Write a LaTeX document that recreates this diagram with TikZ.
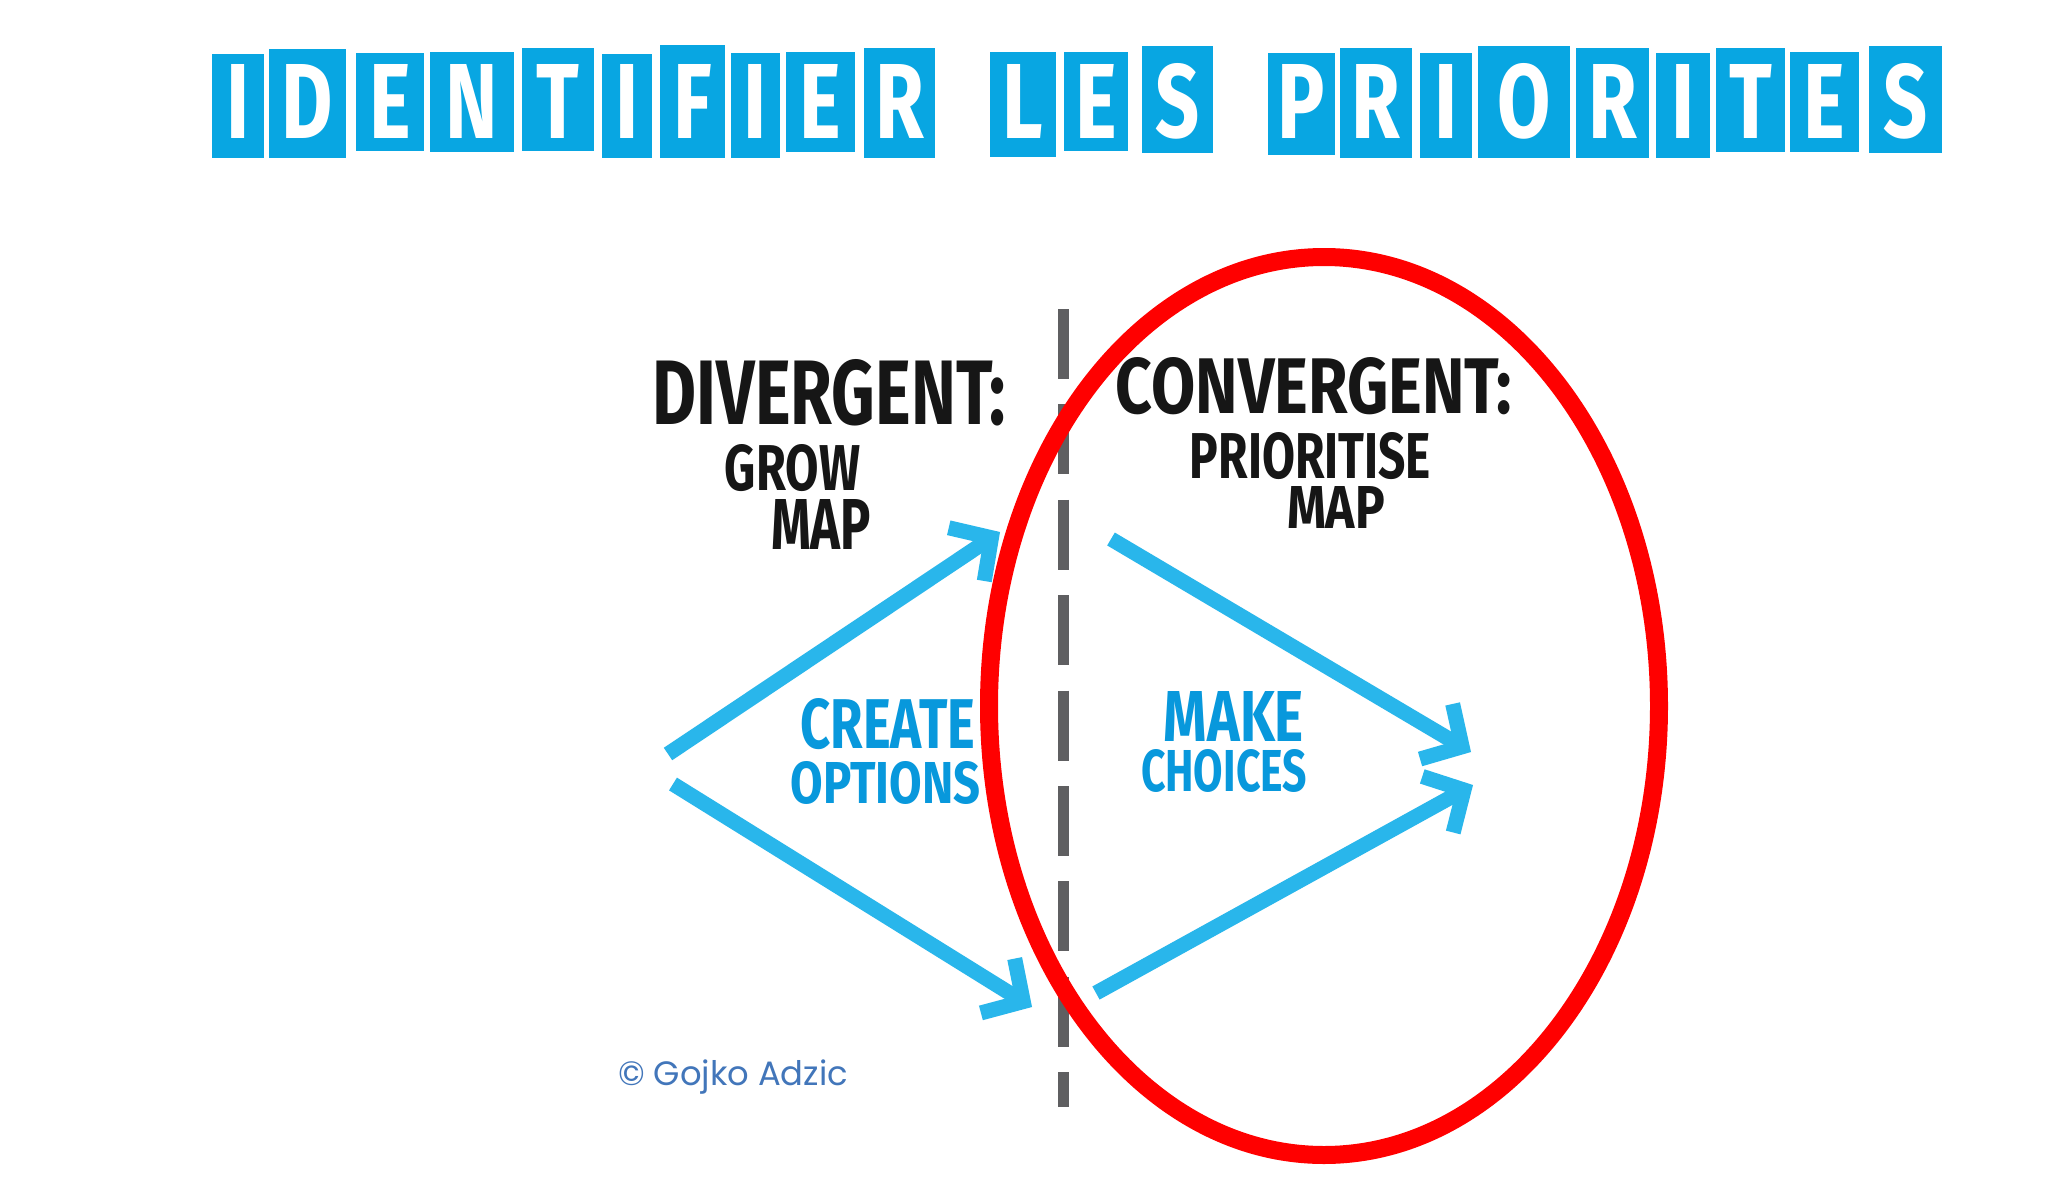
\documentclass[tikz,border=0pt]{standalone}
\usepackage{fontspec}
\setmainfont{Fira Sans}
\newfontfamily\copyfont{Poppins}
\usetikzlibrary{arrows.meta}
\definecolor{titleblue}{RGB}{8,166,226}
\definecolor{arrowblue}{RGB}{41,182,235}
\definecolor{textblue}{RGB}{8,152,220}
\definecolor{dashgray}{RGB}{95,95,97}
\definecolor{copyblue}{RGB}{66,118,186}
\definecolor{ovalred}{RGB}{255,0,0}
\definecolor{inkblack}{RGB}{22,22,22}
\tikzset{
  every node/.style={inner sep=0pt, outer sep=0pt},
  tbox/.style={fill=titleblue, draw=none},
  tletter/.style={text=white, font=\bfseries},
  headtxt/.style={text=inkblack, font=\bfseries},
  bluetxt/.style={text=textblue, font=\bfseries},
  flow/.style={draw=arrowblue, line width=15pt, -{Straight Barb[length=30pt,width=64pt]}},
  divider/.style={draw=dashgray, line width=11pt, dash pattern=on 70pt off 25.4pt},
  oval/.style={draw=ovalred, line width=18pt},
  copytxt/.style={text=copyblue, font=\copyfont}
}
\newcommand{\fitbox}[3]{\resizebox{#1pt}{#2pt}{#3}}
\begin{document}
\begin{tikzpicture}[x=1pt,y=-1pt]
\useasboundingbox (0,0) rectangle (2048,1196);
\fill[white] (0,0) rectangle (2048,1196);

% title
\foreach \xa/\ya/\xb/\yb/\L [count=\i] in {
  212/54/264/158/I, 269/49/346/158/D, 356/53/424/151/E, 430/52/514/152/N,
  522/48/594/151/T, 602/54/652/158/I, 660/45/725/158/F, 731/53/780/158/I,
  786/52/855/152/E, 864/48/935/158/R,
  990/52/1056/157/L, 1064/52/1128/151/E, 1142/46/1213/153/S,
  1268/53/1335/155/P, 1340/48/1412/158/R, 1420/53/1472/158/I, 1478/46/1570/158/O,
  1576/48/1649/158/R, 1656/53/1710/158/I, 1716/48/1785/152/T, 1790/52/1859/152/E,
  1869/46/1942/153/S}
{
  \fill[tbox] (\xa,\ya) rectangle (\xb,\yb);
  \node[tletter] (t\i) at ({(\xa+\xb)/2},101) {\resizebox{!}{74pt}{\scalebox{0.74}[1]{\L}}};
}

% divider
\coordinate (dtop) at (1063,309);
\coordinate (dbot) at (1063,1107);
\draw[divider] (dtop) -- (dbot);

% arrows
\coordinate (a1s) at (668,754);  \coordinate (a1e) at (1000,532);
\coordinate (a2s) at (673,784);  \coordinate (a2e) at (1032,1007);
\coordinate (a3s) at (1111,539); \coordinate (a3e) at (1471,752);
\coordinate (a4s) at (1096,993); \coordinate (a4e) at (1473,785);
\draw[flow] (a1s) -- (a1e);
\draw[flow] (a2s) -- (a2e);
\draw[flow] (a3s) -- (a3e);
\draw[flow] (a4s) -- (a4e);

% headings
\node[headtxt] (div) at (829.5,392.5) {\fitbox{353}{65}{DIVERGENT:}};
\node[headtxt] (grow) at (792.5,468) {\fitbox{135}{46}{GROW}};
\node[headtxt] (mapl) at (821,524.5) {\fitbox{100}{50}{MAP}};
\node[headtxt] (conv) at (1314,386.5) {\fitbox{396}{56}{CONVERGENT:}};
\node[headtxt] (prio) at (1310.5,456) {\fitbox{241}{46}{PRIORITISE}};
\node[headtxt] (mapr) at (1336,507) {\fitbox{98}{42}{MAP}};

% blue labels
\node[bluetxt] (create) at (888,724) {\fitbox{175}{50}{CREATE}};
\node[bluetxt] (options) at (885.5,783) {\fitbox{190}{42}{OPTIONS}};
\node[bluetxt] (make) at (1234,716) {\fitbox{140}{50}{MAKE}};
\node[bluetxt] (choices) at (1224,771) {\fitbox{166}{42}{CHOICES}};

% copyright
\node[copytxt, anchor=base west] (copy) at (618,1085) {\resizebox{230pt}{!}{© Gojko Adzic}};

% red oval
\node[draw=none] (ovalc) at (1324,706) {};
\draw[oval] (ovalc) ellipse [x radius=335pt, y radius=449pt];
\end{tikzpicture}
\end{document}
